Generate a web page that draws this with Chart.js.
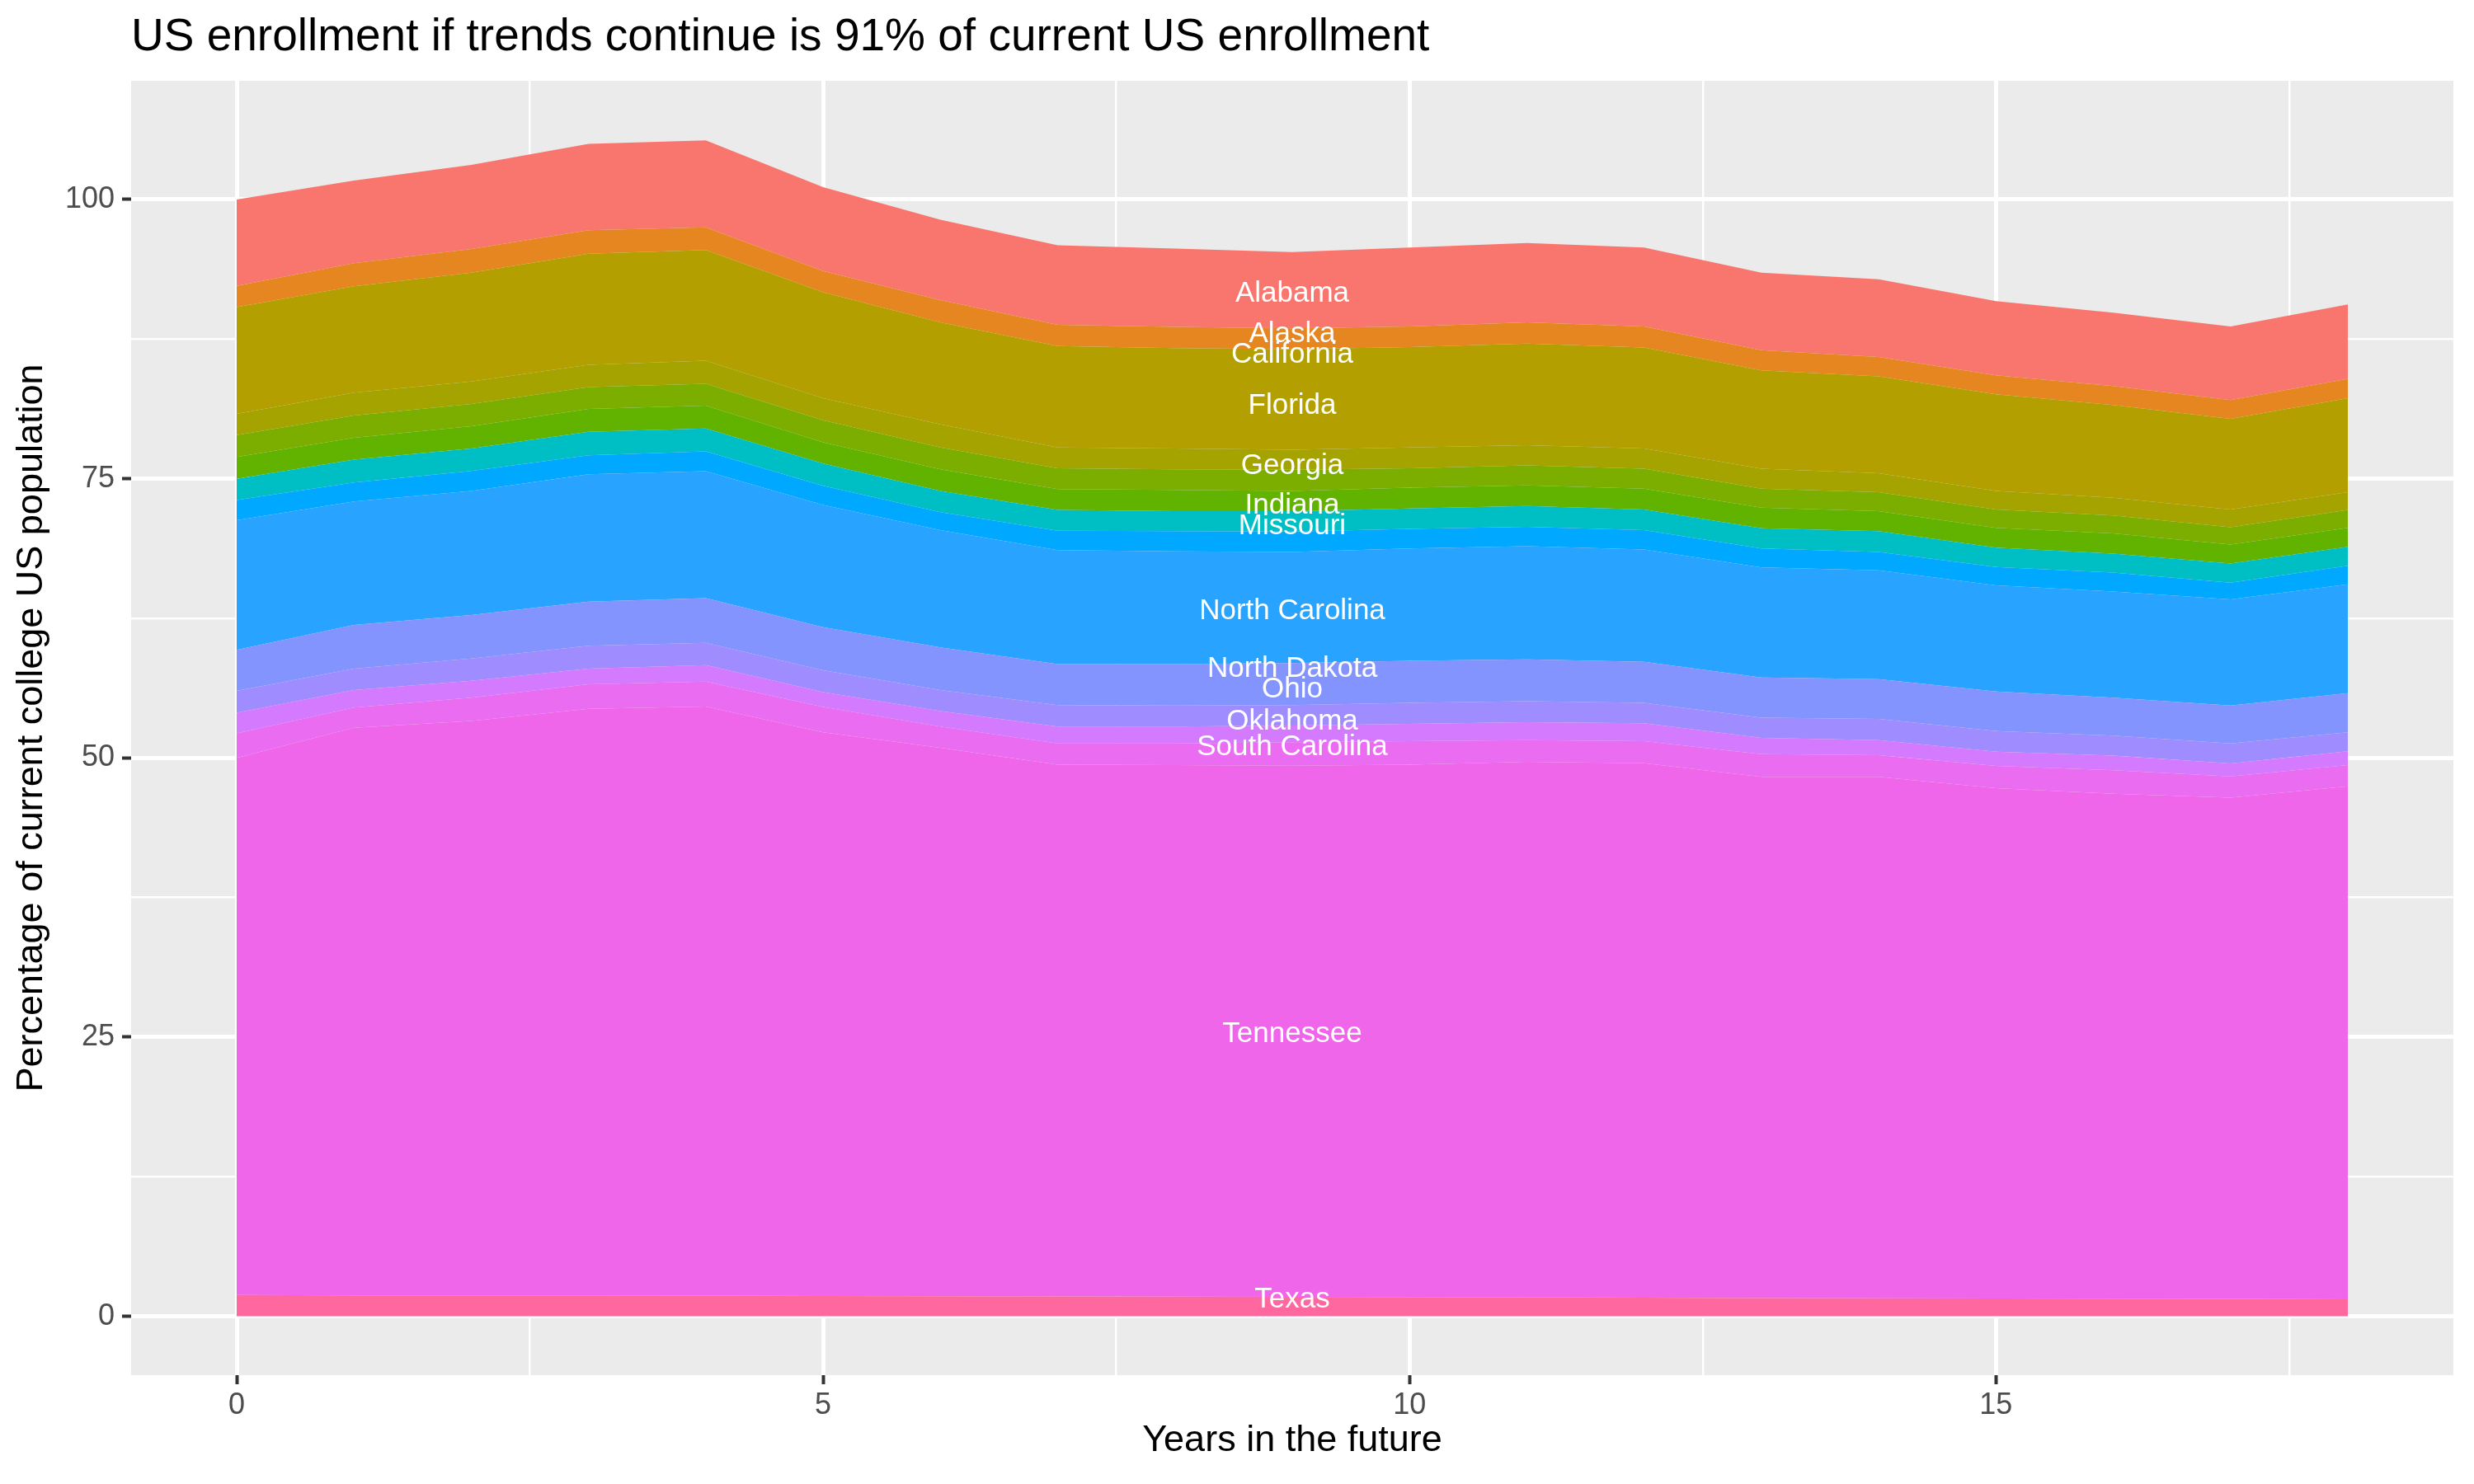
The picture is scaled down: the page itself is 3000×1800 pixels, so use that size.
<!DOCTYPE html>
<html>
<head>
<meta charset="utf-8">
<title>US enrollment if trends continue</title>
<script src="https://cdn.jsdelivr.net/npm/chart.js@4.4.1/dist/chart.umd.min.js"></script>
<style>
  body { margin: 0; background: #ffffff; }
  canvas { display: block; }
</style>
</head>
<body>
<canvas id="myChart" width="3000" height="1800"></canvas>
<script>
// years in the future (x axis)
const years = [0, 1, 2, 3, 4, 5, 6, 7, 8, 9, 10, 11, 12, 13, 14, 15, 16, 17, 18];

// percentage of current college US population, one array per band (top to bottom)
const alabama       = [7.73, 7.40, 7.53, 7.73, 7.80, 7.50, 7.20, 7.13, 7.00, 6.83, 7.06, 7.10, 7.06, 6.95, 6.96, 6.65, 6.56, 6.59, 6.65];
const alaska        = [1.90, 2.07, 2.12, 2.11, 2.02, 1.90, 2.00, 1.90, 1.90, 1.87, 1.86, 1.90, 1.90, 1.80, 1.74, 1.69, 1.70, 1.69, 1.75];
const florida       = [9.57, 9.53, 9.75, 9.94, 9.92, 9.50, 9.14, 9.07, 9.00, 9.00, 8.98, 9.10, 9.04, 8.80, 8.66, 8.66, 8.30, 8.11, 8.40];
const georgia       = [1.90, 2.04, 2.00, 2.00, 2.06, 1.96, 2.06, 1.87, 1.85, 1.80, 1.87, 1.80, 1.80, 1.80, 1.70, 1.65, 1.60, 1.60, 1.60];
const unlabelledA   = [1.96, 1.99, 2.00, 1.95, 1.95, 1.99, 1.96, 1.86, 1.85, 1.90, 1.73, 1.80, 1.80, 1.70, 1.70, 1.65, 1.60, 1.55, 1.60];
const indiana       = [1.94, 1.97, 2.00, 2.05, 2.05, 1.90, 1.94, 1.87, 1.90, 1.80, 1.86, 1.85, 1.85, 1.83, 1.80, 1.77, 1.80, 1.70, 1.70];
const missouri      = [1.90, 2.04, 2.00, 2.10, 2.05, 1.98, 1.90, 1.85, 1.80, 1.83, 1.84, 1.85, 1.85, 1.82, 1.85, 1.73, 1.70, 1.70, 1.70];
const unlabelledB   = [1.82, 1.69, 1.80, 1.70, 1.77, 1.73, 1.60, 1.75, 1.80, 1.82, 1.75, 1.74, 1.73, 1.69, 1.65, 1.65, 1.70, 1.50, 1.65];
const northCarolina = [11.61, 11.07, 11.10, 11.40, 11.38, 10.94, 10.50, 10.20, 10.10, 9.95, 10.05, 10.13, 10.07, 9.86, 9.75, 9.50, 9.50, 9.50, 9.75];
const ohio          = [3.67, 3.90, 3.90, 3.95, 4.00, 3.85, 3.82, 3.67, 3.70, 3.77, 3.76, 3.76, 3.66, 3.60, 3.55, 3.55, 3.40, 3.40, 3.50];
const oklahoma      = [1.95, 1.92, 2.00, 2.05, 2.00, 1.95, 1.88, 1.93, 1.90, 1.83, 1.90, 1.87, 1.84, 1.80, 1.90, 1.85, 1.80, 1.80, 1.70];
const unlabelledC   = [1.85, 1.58, 1.50, 1.40, 1.46, 1.34, 1.40, 1.50, 1.50, 1.50, 1.54, 1.60, 1.60, 1.46, 1.35, 1.27, 1.30, 1.15, 1.24];
const southCarolina = [2.20, 1.80, 2.10, 2.20, 2.24, 2.26, 1.90, 1.90, 1.95, 2.10, 2.10, 1.94, 1.97, 2.04, 1.95, 1.98, 2.10, 1.91, 1.90];
const tennessee     = [48.10, 50.82, 51.43, 52.53, 52.74, 50.48, 49.10, 47.62, 47.58, 47.55, 47.68, 47.96, 47.86, 46.66, 46.68, 45.70, 45.22, 44.89, 45.93];
const texas         = [1.90, 1.88, 1.87, 1.87, 1.86, 1.82, 1.80, 1.78, 1.77, 1.75, 1.72, 1.70, 1.67, 1.64, 1.62, 1.60, 1.58, 1.55, 1.53];

// text labels written at year 9
const labelYear = 9;
const labelNames  = ["Alabama", "Alaska", "California", "Florida", "Georgia", "Indiana", "Missouri",
                     "North Carolina", "North Dakota", "Ohio", "Oklahoma", "South Carolina", "Tennessee", "Texas"];
const labelValues = [91.77, 88.19, 86.35, 81.8, 76.38, 72.82, 70.97, 63.35, 58.18, 56.34, 53.5, 51.22, 25.49, 1.76];

// axis ticks
const xTicks = [0, 5, 10, 15];
const yTicks = [0, 25, 50, 75, 100];

// bottom to top, because chart.js stacks the first dataset at the bottom
const bands = [
  ["Texas", texas, "#FF689F"],
  ["Tennessee", tennessee, "#F066EA"],
  ["South Carolina", southCarolina, "#EA6CF1"],
  ["(unlabelled)", unlabelledC, "#D47AFF"],
  ["Oklahoma", oklahoma, "#9F8CFF"],
  ["Ohio", ohio, "#8494FF"],
  ["North Carolina", northCarolina, "#28A3FF"],
  ["(unlabelled)", unlabelledB, "#00A9FF"],
  ["Missouri", missouri, "#00BFC4"],
  ["Indiana", indiana, "#62B200"],
  ["(unlabelled)", unlabelledA, "#7CAE00"],
  ["Georgia", georgia, "#A5A300"],
  ["Florida", florida, "#B39F00"],
  ["Alaska", alaska, "#E68620"],
  ["Alabama", alabama, "#F8766D"]
];

function withMinors(majors) {
  // ggplot style minor breaks half way between the majors
  var out = [];
  for (var i = 0; i < majors.length; i++) {
    out.push(majors[i]);
    if (i < majors.length - 1) out.push((majors[i] + majors[i + 1]) / 2);
  }
  if (majors === xTicks) out.push(majors[majors.length - 1] + (majors[1] - majors[0]) / 2);
  return out;
}

const panelBackground = {
  id: "panelBackground",
  beforeDraw(chart) {
    const a = chart.chartArea;
    chart.ctx.save();
    chart.ctx.fillStyle = "#EBEBEB";
    chart.ctx.fillRect(a.left, a.top, a.right - a.left, a.bottom - a.top);
    chart.ctx.restore();
  }
};

const stateLabels = {
  id: "stateLabels",
  afterDatasetsDraw(chart) {
    const ctx = chart.ctx;
    const x = chart.scales.x, y = chart.scales.y;
    ctx.save();
    ctx.fillStyle = "#FFFFFF";
    ctx.font = '35px "Liberation Sans", Arial, sans-serif';
    ctx.textAlign = "center";
    ctx.textBaseline = "alphabetic";
    for (var i = 0; i < labelNames.length; i++) {
      // baseline half a cap height below the value, so the letters sit centred on it
      ctx.fillText(labelNames[i], x.getPixelForValue(labelYear), y.getPixelForValue(labelValues[i]) + 13);
    }
    ctx.restore();
  }
};

function gridOptions(majors) {
  const isMajor = c => c.tick && majors.includes(c.tick.value);
  return {
    color: "#FFFFFF",
    lineWidth: c => isMajor(c) ? 5 : 2.5,
    tickColor: c => isMajor(c) ? "#333333" : "rgba(0,0,0,0)",
    tickLength: 11,
    tickWidth: 4
  };
}

Chart.defaults.font.family = '"Liberation Sans", Arial, Helvetica, sans-serif';

const ctx = document.getElementById("myChart").getContext("2d");
const myChart = new Chart(ctx, {
  type: "line",
  data: {
    labels: years,
    datasets: bands.map((b, i) => ({
      label: b[0],
      data: b[1],
      backgroundColor: b[2],
      borderColor: "rgba(0,0,0,0)",
      borderWidth: 0,
      pointRadius: 0,
      tension: 0,
      fill: i === 0 ? "origin" : "-1"
    }))
  },
  options: {
    responsive: false,
    devicePixelRatio: 1,
    animation: false,
    layout: { padding: { left: 0, right: 25, top: 0, bottom: 0 } },
    plugins: {
      legend: { display: false },
      tooltip: { enabled: false },
      title: {
        display: true,
        text: "US enrollment if trends continue is 91% of current US enrollment",
        align: "start",
        fullSize: false,
        color: "#000000",
        font: { size: 55, weight: "normal" },
        padding: { top: 13, bottom: 19 }
      }
    },
    scales: {
      x: {
        type: "linear",
        min: -0.9,
        max: 18.9,
        afterBuildTicks: s => { s.ticks = withMinors(xTicks).map(v => ({ value: v })); },
        afterFit: s => { s.height = 132; },
        ticks: {
          callback: v => xTicks.includes(v) ? String(v) : "",
          color: "#4D4D4D",
          font: { size: 36 },
          padding: 4,
          autoSkip: false,
          maxRotation: 0
        },
        grid: gridOptions(xTicks),
        border: { display: false },
        title: {
          display: true,
          text: "Years in the future",
          color: "#000000",
          font: { size: 45 },
          padding: { top: 0, bottom: 25 }
        }
      },
      y: {
        type: "linear",
        stacked: true,
        min: -5.27,
        max: 110.63,
        afterBuildTicks: s => { s.ticks = withMinors(yTicks).map(v => ({ value: v })); },
        afterFit: s => { s.width = 159; },
        ticks: {
          callback: v => yTicks.includes(v) ? String(v) : "",
          color: "#4D4D4D",
          font: { size: 36 },
          padding: 9,
          autoSkip: false
        },
        grid: gridOptions(yTicks),
        border: { display: false },
        title: {
          display: true,
          text: "Percentage of current college US population",
          color: "#000000",
          font: { size: 45 },
          padding: { top: 12, bottom: 0 }
        }
      }
    }
  },
  plugins: [panelBackground, stateLabels]
});
</script>
</body>
</html>
